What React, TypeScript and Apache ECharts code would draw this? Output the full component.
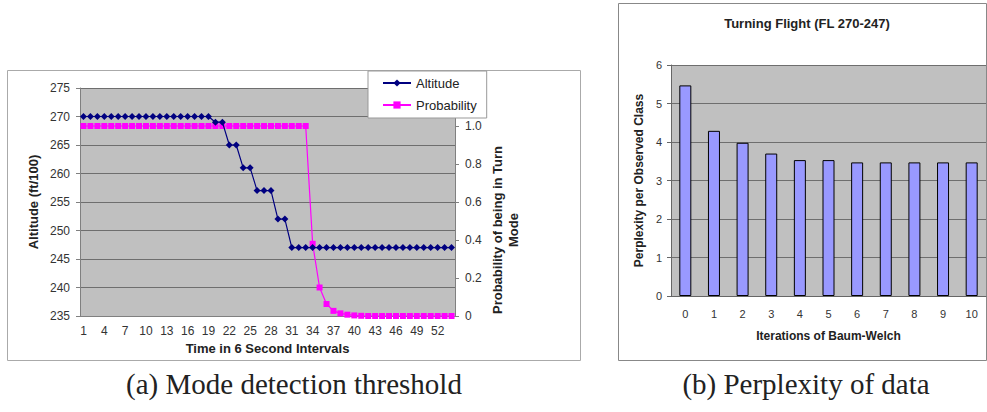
import React, { useEffect, useRef } from "react";
import * as echarts from "echarts";

const timeSteps = [
  "1", "2", "3", "4", "5", "6", "7", "8", "9", "10", "11", "12", "13", "14", "15", "16", "17", "18",
  "19", "20", "21", "22", "23", "24", "25", "26", "27", "28", "29", "30", "31", "32", "33", "34", "35", "36",
  "37", "38", "39", "40", "41", "42", "43", "44", "45", "46", "47", "48", "49", "50", "51", "52", "53", "54",
];

const altitude = [
  270, 270, 270, 270, 270, 270, 270, 270, 270, 270, 270, 270, 270, 270, 270, 270, 270, 270, 270,
  269, 269, 265, 265, 261, 261, 257, 257, 257, 252, 252,
  247, 247, 247, 247, 247, 247, 247, 247, 247, 247, 247, 247, 247, 247, 247, 247, 247, 247, 247, 247, 247, 247, 247, 247,
];

const probability = [
  1, 1, 1, 1, 1, 1, 1, 1, 1, 1, 1, 1, 1, 1, 1, 1, 1, 1, 1, 1, 1, 1, 1, 1, 1, 1, 1, 1, 1, 1, 1, 1, 1,
  0.38, 0.15, 0.063, 0.027, 0.014, 0.007, 0.003, 0.001,
  0, 0, 0, 0, 0, 0, 0, 0, 0, 0, 0, 0, 0,
];

const iterations = ["0", "1", "2", "3", "4", "5", "6", "7", "8", "9", "10"];
const perplexity = [5.47, 4.29, 3.98, 3.7, 3.53, 3.53, 3.47, 3.47, 3.47, 3.47, 3.47];

const FONT = "Liberation Sans";
const SERIF = "Liberation Serif";

export default function App() {
  const ref = useRef<HTMLDivElement>(null);

  useEffect(() => {
    if (!ref.current) return;
    const chart = echarts.init(ref.current, null, { renderer: "svg" });
    const axisLabelStyle = { color: "#333", fontFamily: FONT, fontSize: 12 };
    const nameStyle = { color: "#222", fontFamily: FONT, fontWeight: "bold" as const, fontSize: 13 };
    chart.setOption({
      animation: false,
      backgroundColor: "#fff",
      textStyle: { fontFamily: FONT },
      grid: [
        { left: 80, top: 88, width: 375, height: 228, show: true, backgroundColor: "#c0c0c0", borderWidth: 0 },
        { left: 671, top: 65, width: 315, height: 231, show: true, backgroundColor: "#c0c0c0", borderWidth: 0 },
      ],
      legend: {
        orient: "vertical",
        left: 368,
        top: 71,
        padding: [5, 10, 6, 14],
        backgroundColor: "#fff",
        borderColor: "#999",
        borderWidth: 1,
        itemWidth: 28,
        itemHeight: 9,
        itemGap: 8,
        textStyle: { color: "#222", fontFamily: FONT, fontSize: 13, lineHeight: 14 },
        data: ["Altitude", "Probability"],
      },
      xAxis: [
        {
          type: "category",
          gridIndex: 0,
          data: timeSteps,
          boundaryGap: true,
          axisLine: { lineStyle: { color: "#808080" } },
          axisTick: { interval: 0, length: 3, lineStyle: { color: "#808080" } },
          axisLabel: { ...axisLabelStyle, interval: 2, margin: 9 },
          name: "Time in 6 Second Intervals",
          nameLocation: "middle",
          nameGap: 25,
          nameTextStyle: nameStyle,
        },
        {
          type: "category",
          gridIndex: 1,
          data: iterations,
          boundaryGap: true,
          axisLine: { lineStyle: { color: "#666" } },
          axisTick: { length: 4, lineStyle: { color: "#666" } },
          axisLabel: { ...axisLabelStyle, fontSize: 11, margin: 12 },
          name: "Iterations of Baum-Welch",
          nameLocation: "middle",
          nameGap: 34,
          nameTextStyle: { ...nameStyle, fontSize: 12 },
        },
      ],
      yAxis: [
        {
          type: "value",
          gridIndex: 0,
          position: "left",
          min: 235,
          max: 275,
          interval: 5,
          axisLine: { show: true, lineStyle: { color: "#808080" } },
          axisTick: { show: true, length: 4, lineStyle: { color: "#808080" } },
          axisLabel: { ...axisLabelStyle, margin: 10 },
          splitLine: { lineStyle: { color: "#6e6e6e" } },
          name: "Altitude (ft/100)",
          nameLocation: "middle",
          nameRotate: 90,
          nameGap: 40,
          nameTextStyle: nameStyle,
        },
        {
          type: "value",
          gridIndex: 0,
          position: "right",
          min: 0,
          max: 1.2,
          interval: 0.2,
          axisLine: { show: true, lineStyle: { color: "#808080" } },
          axisTick: { show: true, length: 4, lineStyle: { color: "#808080" } },
          axisLabel: {
            ...axisLabelStyle,
            margin: 10,
            formatter: (v: number) => (v === 0 ? "0" : v > 1.1 ? "" : v.toFixed(1)),
          },
          splitLine: { show: false },
          name: "Probability of being in Turn\nMode",
          nameLocation: "middle",
          nameRotate: 90,
          nameGap: 34,
          nameTextStyle: { ...nameStyle, lineHeight: 16, padding: [0, 56, 0, 0] },
        },
        {
          type: "value",
          gridIndex: 1,
          min: 0,
          max: 6,
          interval: 1,
          axisLine: { show: true, lineStyle: { color: "#666" } },
          axisTick: { show: true, length: 4, lineStyle: { color: "#666" } },
          axisLabel: { ...axisLabelStyle, fontSize: 11, margin: 9 },
          splitLine: { lineStyle: { color: "#6e6e6e" } },
          name: "Perplexity per Observed Class",
          nameLocation: "middle",
          nameRotate: 90,
          nameGap: 26,
          nameTextStyle: { ...nameStyle, fontSize: 12 },
        },
      ],
      series: [
        {
          name: "Altitude",
          type: "line",
          xAxisIndex: 0,
          yAxisIndex: 0,
          data: altitude,
          symbol: "diamond",
          symbolSize: 7,
          showSymbol: true,
          showAllSymbol: true,
          lineStyle: { color: "#000080", width: 1.2 },
          itemStyle: { color: "#000080" },
          z: 3,
        },
        {
          name: "Probability",
          type: "line",
          xAxisIndex: 0,
          yAxisIndex: 1,
          data: probability,
          symbol: "rect",
          symbolSize: 6,
          showSymbol: true,
          showAllSymbol: true,
          lineStyle: { color: "#ff00ff", width: 1.2 },
          itemStyle: { color: "#ff00ff" },
          z: 2,
        },
        {
          name: "Perplexity",
          type: "bar",
          xAxisIndex: 1,
          yAxisIndex: 2,
          data: perplexity,
          barWidth: 12,
          itemStyle: { color: "#9999ff", borderColor: "#000", borderWidth: 1 },
        },
      ],
      graphic: [
        {
          type: "rect",
          shape: { x: 7.5, y: 70.5, width: 573, height: 290 },
          style: { fill: "none", stroke: "#aaa", lineWidth: 1 },
          z: -1,
        },
        {
          type: "rect",
          shape: { x: 618.5, y: 3.5, width: 368, height: 357 },
          style: { fill: "none", stroke: "#888", lineWidth: 1 },
          z: -1,
        },
        {
          type: "text",
          x: 807,
          y: 23,
          style: {
            text: "Turning Flight (FL 270-247)",
            fill: "#222",
            font: `bold 13px "${FONT}"`,
            textAlign: "center",
            textVerticalAlign: "middle",
          },
        },
        {
          type: "text",
          x: 294,
          y: 384,
          style: {
            text: "(a) Mode detection threshold",
            fill: "#222",
            font: `29px "${SERIF}"`,
            textAlign: "center",
            textVerticalAlign: "middle",
          },
        },
        {
          type: "text",
          x: 806,
          y: 384,
          style: {
            text: "(b) Perplexity of data",
            fill: "#222",
            font: `29px "${SERIF}"`,
            textAlign: "center",
            textVerticalAlign: "middle",
          },
        },
      ],
    });
    return () => chart.dispose();
  }, []);

  return (
    <div
      ref={ref}
      style={{ position: "fixed", left: 0, top: 0, width: 987, height: 412, background: "#fff" }}
    />
  );
}
